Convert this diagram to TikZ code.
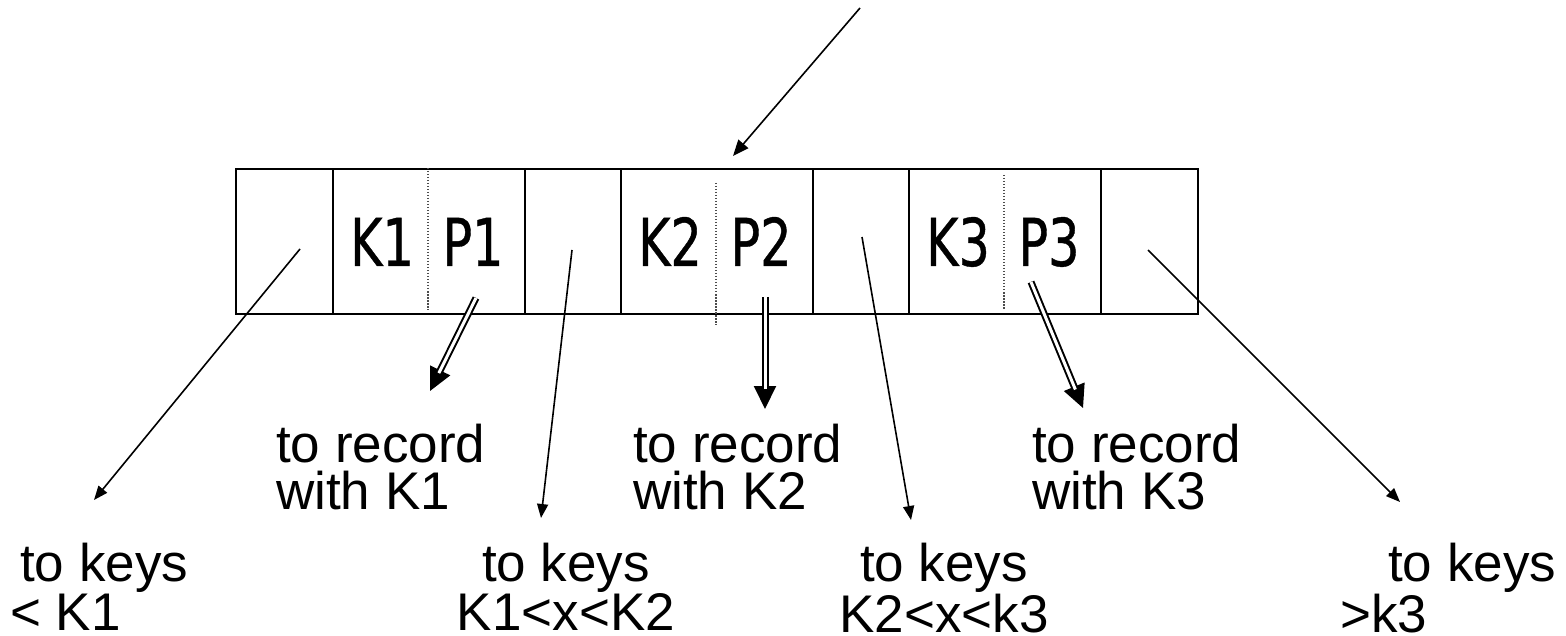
\documentclass[tikz,border=0pt]{standalone}
\usepackage{fontspec}
\setmainfont{Liberation Sans}
\newfontfamily\boxfont[FakeStretch=0.83,FakeBold=0.6]{DejaVu Sans Condensed}
\usetikzlibrary{arrows.meta}
\tikzset{
  cell/.style={draw=black, line width=2pt, minimum height=145pt, inner sep=0pt, anchor=north west},
  keytxt/.style={font=\boxfont\fontsize{66}{70}\selectfont, inner sep=0pt, anchor=base},
  divider/.style={draw=black!70, line width=1.2pt, dash pattern=on 1.5pt off 1.5pt},
  thin/.style={draw=black, line width=1.6pt, -{Triangle[length=14pt,width=11pt]}},
  toparrow/.style={draw=black, line width=1.6pt, -{Triangle[length=16pt,width=13pt]}},
  dblhead/.style={draw=black, line width=2pt, -{Triangle[length=23pt,width=22pt]}},
  dblbody/.style={draw=black, double=white, line width=2pt, double distance=3pt, shorten >=20pt},
  lbl/.style={font=\fontsize{53}{47}\selectfont, inner sep=0pt, anchor=north west, align=left},
}
\begin{document}
\begin{tikzpicture}[x=1pt,y=-1pt]
\useasboundingbox (0,0) rectangle (1566,636);
% cells
\node[cell, minimum width=97pt]  (c0) at (235,168) {};
\node[cell, minimum width=192pt] (c1) at (332,168) {};
\node[cell, minimum width=96pt]  (c2) at (524,168) {};
\node[cell, minimum width=192pt] (c3) at (620,168) {};
\node[cell, minimum width=96pt]  (c4) at (812,168) {};
\node[cell, minimum width=192pt] (c5) at (908,168) {};
\node[cell, minimum width=97pt]  (c6) at (1100,168) {};
% dotted dividers
\draw[divider] (428,168) -- (428,310);
\draw[divider] (716,183) -- (716,325);
\draw[divider] (1004,175) -- (1004,310);
% key texts
\node[keytxt] (k1) at (382,266) {K1};
\node[keytxt] (p1) at (473,266) {P1};
\node[keytxt] (k2) at (670,266) {K2};
\node[keytxt] (p2) at (761,266) {P2};
\node[keytxt] (k3) at (958,266) {K3};
\node[keytxt] (p3) at (1049,266) {P3};
% coordinates
\coordinate (top) at (860,8);
\coordinate (topend) at (733,156);
\coordinate (s0) at (300,249);
\coordinate (e0) at (94,500);
\coordinate (s2) at (572,250);
\coordinate (e2) at (541,518);
\coordinate (s4) at (862,237);
\coordinate (e4) at (911,520);
\coordinate (s6) at (1148,250);
\coordinate (e6) at (1400,502);
\coordinate (d1s) at (476,298);
\coordinate (d1e) at (430,391);
\coordinate (d2s) at (765,297);
\coordinate (d2e) at (765,409);
\coordinate (d3s) at (1031,282);
\coordinate (d3e) at (1083,408);
% arrows
\draw[toparrow] (top) -- (topend);
\draw[thin] (s0) -- (e0);
\draw[thin] (s2) -- (e2);
\draw[thin] (s4) -- (e4);
\draw[thin] (s6) -- (e6);
\draw[dblhead] (d1s) -- (d1e);
\draw[dblbody] (d1s) -- (d1e);
\draw[dblhead] (d2s) -- (d2e);
\draw[dblbody] (d2s) -- (d2e);
\draw[dblhead] (d3s) -- (d3e);
\draw[dblbody] (d3s) -- (d3e);
% labels
\node[lbl] (r1) at (276,424) {to record\\with K1};
\node[lbl] (r2) at (633,424) {to record\\with K2};
\node[lbl] (r3) at (1032,424) {to record\\with K3};
\node[lbl] (l0) at (10,543) {\hspace*{10pt}to keys\\< K1};
\node[lbl, align=center, anchor=north] (l2) at (566,543) {to keys\\K1<x<K2};
\node[lbl, align=center, anchor=north] (l4) at (944,543) {to keys\\K2<x<k3};
\node[lbl] (l6) at (1340,543) {\hspace*{48pt}to keys\\>k3};
\end{tikzpicture}
\end{document}
